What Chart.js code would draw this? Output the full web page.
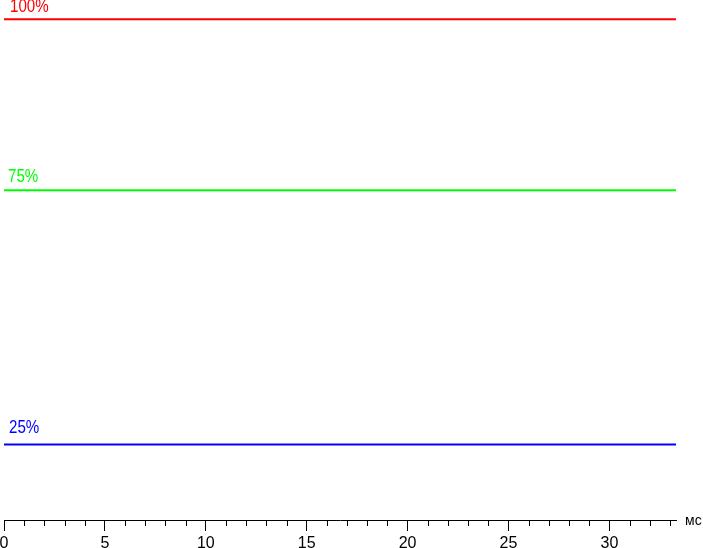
<!DOCTYPE html>
<html>
<head>
<meta charset="utf-8">
<script src="https://cdn.jsdelivr.net/npm/chart.js@4/dist/chart.umd.min.js"></script>
<style>
html,body{margin:0;padding:0;background:#fff;}
#wrap{width:703px;height:548px;position:relative;}
</style>
</head>
<body>
<div id="wrap"><canvas id="c" width="703" height="548"></canvas></div>
<script>
// Time axis (ms)
const timeMs = [0, 5, 10, 15, 20, 25, 30, 33.3];
// Brightness levels (arbitrary units)
const level100 = [96.3, 96.3, 96.3, 96.3, 96.3, 96.3, 96.3, 96.3];
const level75  = [63.4, 63.4, 63.4, 63.4, 63.4, 63.4, 63.4, 63.4];
const level25  = [14.5, 14.5, 14.5, 14.5, 14.5, 14.5, 14.5, 14.5];
const seriesLabels = ['100%', '75%', '25%'];
const seriesColors = ['#ff0000', '#00ff00', '#0000ff'];
const xMax = 33.3;
const unitLabel = 'мс';

const FONT = "'Liberation Sans', Arial, sans-serif";

const mkData = (vals) => timeMs.map((t, i) => ({x: t, y: vals[i]}));

const overlay = {
  id: 'overlay',
  afterDraw(chart) {
    const ctx = chart.ctx;
    const xs = chart.scales.x;
    const ys = chart.scales.y;
    ctx.save();
    // minor ticks
    ctx.strokeStyle = '#000';
    ctx.lineWidth = 1;
    xs.ticks.forEach(t => {
      if (t.value % 5 !== 0) {
        const px = Math.round(xs.getPixelForValue(t.value)) + 0.5;
        ctx.beginPath();
        ctx.moveTo(px, xs.top);
        ctx.lineTo(px, xs.top + 6);
        ctx.stroke();
      }
    });
    // unit label
    ctx.fillStyle = '#000';
    ctx.font = '14px ' + FONT;
    ctx.textBaseline = 'middle';
    ctx.textAlign = 'left';
    ctx.fillText(unitLabel, xs.right + 9, xs.top + 1);
    // series labels (narrow-looking text)
    const offs = [7, 8, 12];
    const xpos = [10, 8, 9];
    ctx.font = '18px ' + FONT;
    ctx.textBaseline = 'alphabetic';
    chart.data.datasets.forEach((ds, i) => {
      const py = ys.getPixelForValue(ds.data[0].y);
      ctx.save();
      ctx.translate(xpos[i], py - offs[i]);
      ctx.scale(0.84, 1);
      ctx.fillStyle = ds.borderColor;
      ctx.fillText(seriesLabels[i], 0, 0);
      ctx.restore();
    });
    ctx.restore();
  }
};

new Chart(document.getElementById('c'), {
  type: 'line',
  data: {
    datasets: [
      {label: seriesLabels[0], data: mkData(level100), borderColor: seriesColors[0], borderWidth: 2, pointRadius: 0, tension: 0},
      {label: seriesLabels[1], data: mkData(level75), borderColor: seriesColors[1], borderWidth: 2, pointRadius: 0, tension: 0},
      {label: seriesLabels[2], data: mkData(level25), borderColor: seriesColors[2], borderWidth: 2, pointRadius: 0, tension: 0}
    ]
  },
  options: {
    responsive: false,
    animation: false,
    layout: {padding: {left: 4, right: 27, top: 0, bottom: 0}},
    plugins: {legend: {display: false}, tooltip: {enabled: false}},
    scales: {
      x: {
        type: 'linear',
        min: 0,
        max: xMax,
        afterFit(scale) {
          scale.height = 28;
          scale.paddingLeft = 0;
          scale.paddingRight = 0;
        },
        border: {display: true, color: '#000', width: 1},
        grid: {
          drawOnChartArea: false,
          drawTicks: true,
          tickLength: 11,
          tickColor: (c) => (c.tick && c.tick.value % 5 === 0) ? '#000' : 'rgba(0,0,0,0)'
        },
        ticks: {
          stepSize: 1,
          includeBounds: false,
          autoSkip: false,
          maxRotation: 0,
          padding: 3,
          color: '#000',
          font: {family: FONT, size: 16},
          callback: (v) => (v % 5 === 0 ? String(v) : '')
        }
      },
      y: {
        display: false,
        min: 0,
        max: 100
      }
    }
  },
  plugins: [overlay]
});
</script>
</body>
</html>
